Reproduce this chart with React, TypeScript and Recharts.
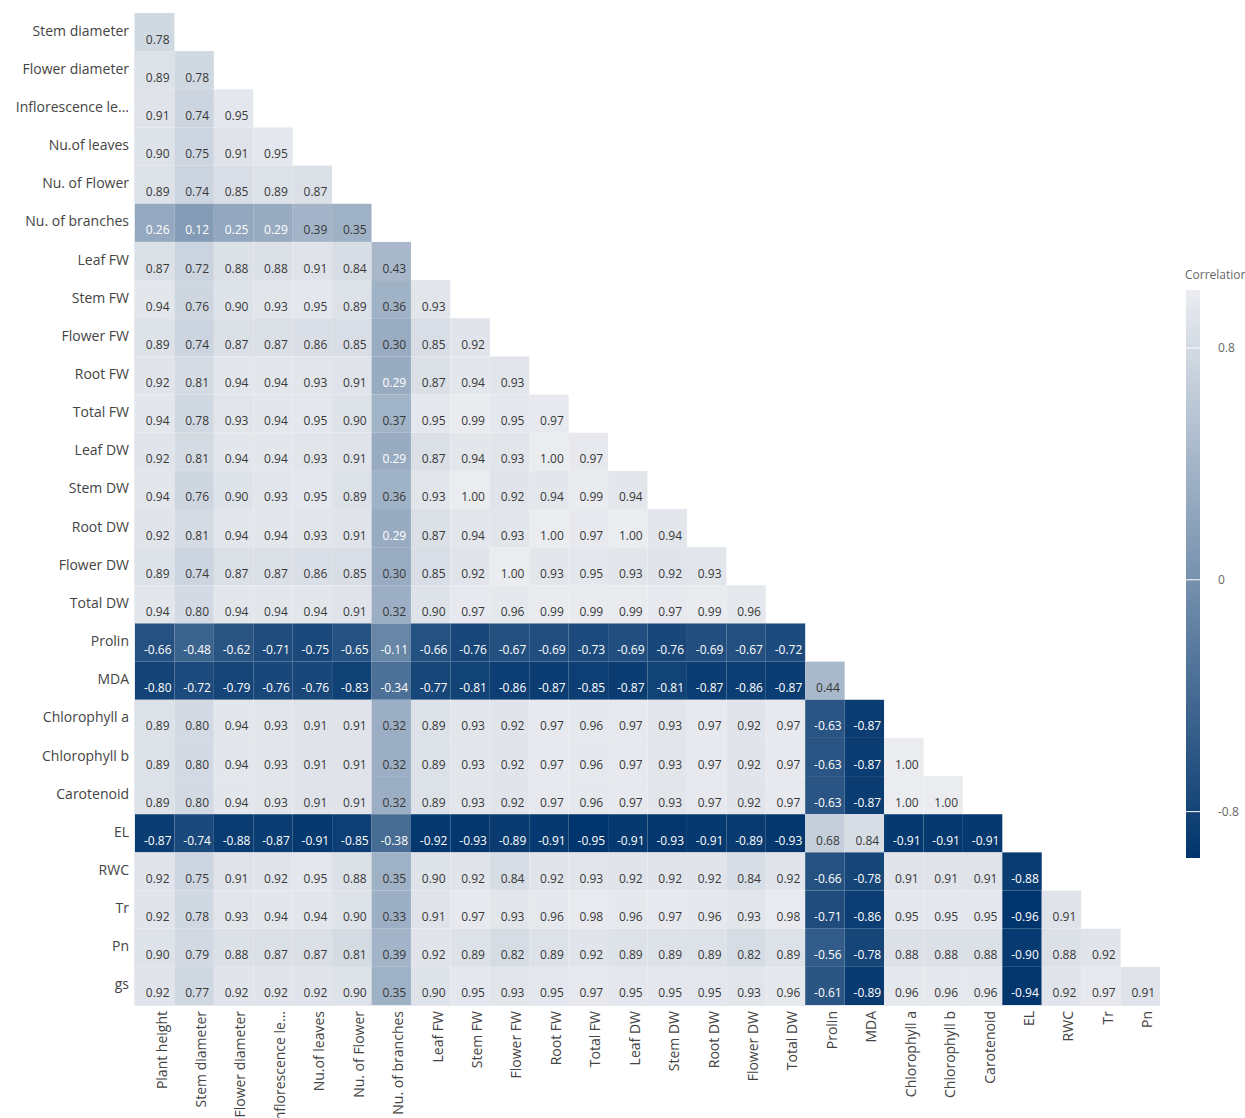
import React from "react";
import { Scatter, ScatterChart, XAxis, YAxis } from "recharts";

// variable names (columns drop the last one, rows drop the first one)
const variables = [
  "Plant height", "Stem diameter", "Flower diameter", "Inflorescence le...",
  "Nu.of leaves", "Nu. of Flower", "Nu. of branches", "Leaf FW", "Stem FW",
  "Flower FW", "Root FW", "Total FW", "Leaf DW", "Stem DW", "Root DW",
  "Flower DW", "Total DW", "Prolin", "MDA", "Chlorophyll a", "Chlorophyll b",
  "Carotenoid", "EL", "RWC", "Tr", "Pn", "gs",
];
const colLabels = variables.slice(0, variables.length - 1);
const rowLabels = variables.slice(1);

// lower triangle of the correlation matrix, one array per row
const stemDiameter = [0.78];
const flowerDiameter = [0.89, 0.78];
const inflorescence = [0.91, 0.74, 0.95];
const nuLeaves = [0.9, 0.75, 0.91, 0.95];
const nuFlower = [0.89, 0.74, 0.85, 0.89, 0.87];
const nuBranches = [0.26, 0.12, 0.25, 0.29, 0.39, 0.35];
const leafFW = [0.87, 0.72, 0.88, 0.88, 0.91, 0.84, 0.43];
const stemFW = [0.94, 0.76, 0.9, 0.93, 0.95, 0.89, 0.36, 0.93];
const flowerFW = [0.89, 0.74, 0.87, 0.87, 0.86, 0.85, 0.3, 0.85, 0.92];
const rootFW = [0.92, 0.81, 0.94, 0.94, 0.93, 0.91, 0.29, 0.87, 0.94, 0.93];
const totalFW = [0.94, 0.78, 0.93, 0.94, 0.95, 0.9, 0.37, 0.95, 0.99, 0.95, 0.97];
const leafDW = [0.92, 0.81, 0.94, 0.94, 0.93, 0.91, 0.29, 0.87, 0.94, 0.93, 1.0, 0.97];
const stemDW = [0.94, 0.76, 0.9, 0.93, 0.95, 0.89, 0.36, 0.93, 1.0, 0.92, 0.94, 0.99, 0.94];
const rootDW = [0.92, 0.81, 0.94, 0.94, 0.93, 0.91, 0.29, 0.87, 0.94, 0.93, 1.0, 0.97, 1.0, 0.94];
const flowerDW = [0.89, 0.74, 0.87, 0.87, 0.86, 0.85, 0.3, 0.85, 0.92, 1.0, 0.93, 0.95, 0.93, 0.92, 0.93];
const totalDW = [0.94, 0.8, 0.94, 0.94, 0.94, 0.91, 0.32, 0.9, 0.97, 0.96, 0.99, 0.99, 0.99, 0.97, 0.99, 0.96];
const prolin = [-0.66, -0.48, -0.62, -0.71, -0.75, -0.65, -0.11, -0.66, -0.76, -0.67, -0.69, -0.73, -0.69, -0.76, -0.69, -0.67, -0.72];
const mda = [-0.8, -0.72, -0.79, -0.76, -0.76, -0.83, -0.34, -0.77, -0.81, -0.86, -0.87, -0.85, -0.87, -0.81, -0.87, -0.86, -0.87, 0.44];
const chlA = [0.89, 0.8, 0.94, 0.93, 0.91, 0.91, 0.32, 0.89, 0.93, 0.92, 0.97, 0.96, 0.97, 0.93, 0.97, 0.92, 0.97, -0.63, -0.87];
const chlB = [0.89, 0.8, 0.94, 0.93, 0.91, 0.91, 0.32, 0.89, 0.93, 0.92, 0.97, 0.96, 0.97, 0.93, 0.97, 0.92, 0.97, -0.63, -0.87, 1.0];
const carotenoid = [0.89, 0.8, 0.94, 0.93, 0.91, 0.91, 0.32, 0.89, 0.93, 0.92, 0.97, 0.96, 0.97, 0.93, 0.97, 0.92, 0.97, -0.63, -0.87, 1.0, 1.0];
const el = [-0.87, -0.74, -0.88, -0.87, -0.91, -0.85, -0.38, -0.92, -0.93, -0.89, -0.91, -0.95, -0.91, -0.93, -0.91, -0.89, -0.93, 0.68, 0.84, -0.91, -0.91, -0.91];
const rwc = [0.92, 0.75, 0.91, 0.92, 0.95, 0.88, 0.35, 0.9, 0.92, 0.84, 0.92, 0.93, 0.92, 0.92, 0.92, 0.84, 0.92, -0.66, -0.78, 0.91, 0.91, 0.91, -0.88];
const tr = [0.92, 0.78, 0.93, 0.94, 0.94, 0.9, 0.33, 0.91, 0.97, 0.93, 0.96, 0.98, 0.96, 0.97, 0.96, 0.93, 0.98, -0.71, -0.86, 0.95, 0.95, 0.95, -0.96, 0.91];
const pn = [0.9, 0.79, 0.88, 0.87, 0.87, 0.81, 0.39, 0.92, 0.89, 0.82, 0.89, 0.92, 0.89, 0.89, 0.89, 0.82, 0.89, -0.56, -0.78, 0.88, 0.88, 0.88, -0.9, 0.88, 0.92];
const gs = [0.92, 0.77, 0.92, 0.92, 0.92, 0.9, 0.35, 0.9, 0.95, 0.93, 0.95, 0.97, 0.95, 0.95, 0.95, 0.93, 0.96, -0.61, -0.89, 0.96, 0.96, 0.96, -0.94, 0.92, 0.97, 0.91];

const matrixRows = [
  stemDiameter, flowerDiameter, inflorescence, nuLeaves, nuFlower, nuBranches,
  leafFW, stemFW, flowerFW, rootFW, totalFW, leafDW, stemDW, rootDW, flowerDW,
  totalDW, prolin, mda, chlA, chlB, carotenoid, el, rwc, tr, pn, gs,
];

const colorTicks = [0.8, 0, -0.8];
const Z_MIN = -0.96;
const Z_MAX = 1.0;

const cells = matrixRows.flatMap((row, r) =>
  row.map((v, c) => ({ x: c, y: r, v }))
);

// colour scale: dark navy -> steel blue -> pale grey
const LOW = [0, 52, 108];
const MID = [118, 145, 174];
const HIGH = [234, 236, 240];
const mix = (a: number[], b: number[], t: number) =>
  `rgb(${a.map((ch, i) => Math.round(ch + (b[i] - ch) * t)).join(",")})`;
const colorFor = (v: number) =>
  v < 0 ? mix(LOW, MID, (v - Z_MIN) / (0 - Z_MIN)) : mix(MID, HIGH, v / Z_MAX);

const FONT = "'Segoe UI', 'Open Sans', sans-serif";
const CHART_W = 1175;
const CHART_H = 1118;
const PLOT_LEFT = 135;
const PLOT_TOP = 13;
const PLOT_W = 1025;
const PLOT_H = 992;
const X_AXIS_H = CHART_H - PLOT_TOP - PLOT_H;
const CELL_W = PLOT_W / colLabels.length;
const CELL_H = PLOT_H / rowLabels.length;
const indexTicks = colLabels.map((_, i) => i);

const HeatCell = (props: any) => {
  const { cx, cy, payload } = props;
  const v: number = payload.v;
  return (
    <g>
      <rect
        x={cx - CELL_W / 2}
        y={cy - CELL_H / 2}
        width={CELL_W}
        height={CELL_H}
        fill={colorFor(v)}
      />
      <text
        x={cx + 3}
        y={cy + 7}
        textAnchor="middle"
        dominantBaseline="central"
        fontSize={12}
        fontFamily={FONT}
        fill={v < 0.3 ? "#ffffff" : "#383838"}
      >
        {v.toFixed(2)}
      </text>
    </g>
  );
};

const XTick = (props: any) => {
  const { x, y, payload } = props;
  return (
    <g transform={`translate(${x + 7},${y + 6})`}>
      <text
        transform="rotate(-90)"
        textAnchor="end"
        dy="0.35em"
        fontSize={14}
        fontFamily={FONT}
        fill="#444"
      >
        {colLabels[payload.value]}
      </text>
    </g>
  );
};

const YTick = (props: any) => {
  const { x, y, payload } = props;
  return (
    <text
      x={x - 6}
      y={y - 2}
      textAnchor="end"
      dominantBaseline="central"
      fontSize={14}
      fontFamily={FONT}
      fill="#444"
    >
      {rowLabels[payload.value]}
    </text>
  );
};

const BAR_TOP = 290;
const BAR_H = 568;
const barY = (v: number) => BAR_TOP + ((Z_MAX - v) / (Z_MAX - Z_MIN)) * BAR_H;

const ColorBar = () => (
  <div style={{ position: "absolute", left: 1180, top: 262, width: 80 }}>
    <div
      style={{
        position: "absolute",
        left: 5,
        top: 4,
        fontSize: 12,
        fontFamily: FONT,
        color: "#666",
        whiteSpace: "nowrap",
      }}
    >
      Correlation
    </div>
    <svg
      width={80}
      height={620}
      style={{ position: "absolute", left: 0, top: 0 }}
      viewBox={`1180 262 80 620`}
    >
      <defs>
        <linearGradient id="corrScale" x1="0" y1="0" x2="0" y2="1">
          {[1, 0.8, 0.4, 0, -0.4, -0.8, -0.96].map((v) => (
            <stop
              key={v}
              offset={`${((Z_MAX - v) / (Z_MAX - Z_MIN)) * 100}%`}
              stopColor={colorFor(v)}
            />
          ))}
        </linearGradient>
      </defs>
      <rect x={1186} y={BAR_TOP} width={14} height={BAR_H} fill="url(#corrScale)" />
      {colorTicks.map((t) => (
        <g key={t}>
          <line x1={1186} x2={1200} y1={barY(t)} y2={barY(t)} stroke="#fff" strokeWidth={1} />
          <text
            x={1218}
            y={barY(t)}
            dominantBaseline="central"
            fontSize={12}
            fontFamily={FONT}
            fill="#666"
          >
            {t === 0 ? "0" : t.toFixed(1)}
          </text>
        </g>
      ))}
    </svg>
  </div>
);

export default function App() {
  return (
    <div
      style={{
        position: "fixed",
        left: 0,
        top: 0,
        width: 1245,
        height: 1118,
        overflow: "hidden",
        background: "#fff",
      }}
    >
      <ScatterChart
        width={CHART_W}
        height={CHART_H}
        margin={{ top: PLOT_TOP, right: CHART_W - PLOT_LEFT - PLOT_W, bottom: 0, left: 0 }}
      >
        <XAxis
          type="number"
          dataKey="x"
          domain={[-0.5, colLabels.length - 0.5]}
          ticks={indexTicks}
          interval={0}
          height={X_AXIS_H}
          tickLine={false}
          tickSize={0}
          tickMargin={0}
          axisLine={{ stroke: "#cdd6e1" }}
          tick={<XTick />}
        />
        <YAxis
          type="number"
          dataKey="y"
          domain={[-0.5, rowLabels.length - 0.5]}
          ticks={indexTicks}
          interval={0}
          reversed
          width={PLOT_LEFT}
          tickLine={false}
          tickSize={0}
          tickMargin={0}
          axisLine={{ stroke: "#cdd6e1" }}
          tick={<YTick />}
        />
        <Scatter data={cells} shape={<HeatCell />} isAnimationActive={false} />
      </ScatterChart>
      <ColorBar />
    </div>
  );
}
